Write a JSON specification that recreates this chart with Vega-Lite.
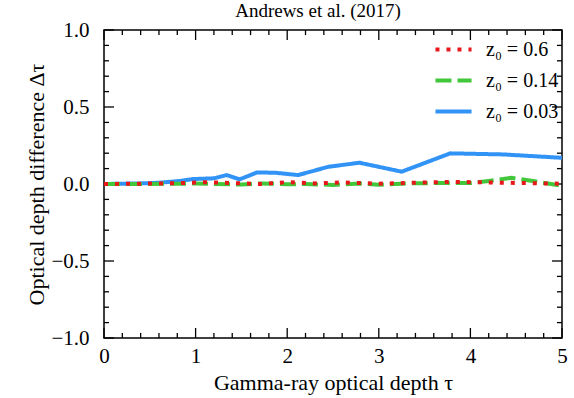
{
  "$schema": "https://vega.github.io/schema/vega-lite/v6.json",
  "width": 458,
  "height": 308,
  "autosize": "none",
  "padding": {"left": 104, "top": 30, "right": 12, "bottom": 60},
  "background": "white",
  "config": {
    "font": "Liberation Serif",
    "view": {"stroke": "black", "strokeWidth": 1.5},
    "title": {"font": "Liberation Serif", "fontWeight": "normal", "color": "black"},
    "rule": {"color": "black", "strokeWidth": 1.3},
    "axis": {"grid": false, "domain": false, "ticks": false, "zindex": 0, "labelColor": "black", "titleColor": "black", "labelFont": "Liberation Serif", "titleFont": "Liberation Serif", "labelFontSize": 21, "titleFontSize": 21, "titleFontWeight": "normal"}
  },
  "title": {"text": "Andrews et al. (2017)", "fontSize": 19, "fontWeight": "normal", "font": "Liberation Serif", "frame": "group", "offset": -2, "dx": -15, "color": "black"},
  "datasets": {
    "xmajor": [{"v": 0}, {"v": 1}, {"v": 2}, {"v": 3}, {"v": 4}, {"v": 5}],
    "xminor": [{"v": 0.2}, {"v": 0.4}, {"v": 0.6}, {"v": 0.8}, {"v": 1.2}, {"v": 1.4}, {"v": 1.6}, {"v": 1.8}, {"v": 2.2}, {"v": 2.4}, {"v": 2.6}, {"v": 2.8}, {"v": 3.2}, {"v": 3.4}, {"v": 3.6}, {"v": 3.8}, {"v": 4.2}, {"v": 4.4}, {"v": 4.6}, {"v": 4.8}],
    "ymajor": [{"v": -1}, {"v": -0.5}, {"v": 0}, {"v": 0.5}, {"v": 1}],
    "yminor": [{"v": -0.9}, {"v": -0.8}, {"v": -0.7}, {"v": -0.6}, {"v": -0.4}, {"v": -0.3}, {"v": -0.2}, {"v": -0.1}, {"v": 0.1}, {"v": 0.2}, {"v": 0.3}, {"v": 0.4}, {"v": 0.6}, {"v": 0.7}, {"v": 0.8}, {"v": 0.9}],
    "lines": [
      {"tau": 0, "d": 0.0, "z": "0.03"},
      {"tau": 0.2, "d": 0.002, "z": "0.03"},
      {"tau": 0.4, "d": 0.004, "z": "0.03"},
      {"tau": 0.6, "d": 0.008, "z": "0.03"},
      {"tau": 0.83, "d": 0.02, "z": "0.03"},
      {"tau": 0.97, "d": 0.032, "z": "0.03"},
      {"tau": 1.2, "d": 0.037, "z": "0.03"},
      {"tau": 1.34, "d": 0.058, "z": "0.03"},
      {"tau": 1.48, "d": 0.03, "z": "0.03"},
      {"tau": 1.67, "d": 0.075, "z": "0.03"},
      {"tau": 1.87, "d": 0.073, "z": "0.03"},
      {"tau": 2.12, "d": 0.058, "z": "0.03"},
      {"tau": 2.45, "d": 0.112, "z": "0.03"},
      {"tau": 2.79, "d": 0.138, "z": "0.03"},
      {"tau": 3.25, "d": 0.08, "z": "0.03"},
      {"tau": 3.78, "d": 0.199, "z": "0.03"},
      {"tau": 4.36, "d": 0.192, "z": "0.03"},
      {"tau": 5.0, "d": 0.17, "z": "0.03"},
      {"tau": 0, "d": 0.0, "z": "0.14"},
      {"tau": 0.5, "d": 0.0, "z": "0.14"},
      {"tau": 1.0, "d": 0.003, "z": "0.14"},
      {"tau": 1.2, "d": 0.0, "z": "0.14"},
      {"tau": 1.5, "d": -0.004, "z": "0.14"},
      {"tau": 1.7, "d": 0.004, "z": "0.14"},
      {"tau": 2.0, "d": -0.002, "z": "0.14"},
      {"tau": 2.2, "d": 0.0, "z": "0.14"},
      {"tau": 2.5, "d": -0.006, "z": "0.14"},
      {"tau": 2.8, "d": 0.003, "z": "0.14"},
      {"tau": 3.0, "d": -0.005, "z": "0.14"},
      {"tau": 3.3, "d": 0.004, "z": "0.14"},
      {"tau": 3.6, "d": 0.006, "z": "0.14"},
      {"tau": 4.0, "d": 0.006, "z": "0.14"},
      {"tau": 4.2, "d": 0.02, "z": "0.14"},
      {"tau": 4.45, "d": 0.04, "z": "0.14"},
      {"tau": 4.7, "d": 0.018, "z": "0.14"},
      {"tau": 5.0, "d": -0.012, "z": "0.14"},
      {"tau": 0, "d": 0.0, "z": "0.6"},
      {"tau": 0.4, "d": 0.002, "z": "0.6"},
      {"tau": 0.8, "d": 0.005, "z": "0.6"},
      {"tau": 1.1, "d": 0.012, "z": "0.6"},
      {"tau": 1.4, "d": 0.006, "z": "0.6"},
      {"tau": 1.7, "d": 0.0, "z": "0.6"},
      {"tau": 2.0, "d": 0.012, "z": "0.6"},
      {"tau": 2.3, "d": 0.004, "z": "0.6"},
      {"tau": 2.6, "d": 0.01, "z": "0.6"},
      {"tau": 3.0, "d": 0.002, "z": "0.6"},
      {"tau": 3.4, "d": 0.008, "z": "0.6"},
      {"tau": 3.8, "d": 0.014, "z": "0.6"},
      {"tau": 4.2, "d": 0.01, "z": "0.6"},
      {"tau": 4.6, "d": 0.006, "z": "0.6"},
      {"tau": 5.0, "d": 0.002, "z": "0.6"}
    ]
  },
  "layer": [
    {
      "data": {"name": "xmajor"},
      "mark": {"type": "rule"},
      "encoding": {"x": {"field": "v", "type": "quantitative", "scale": {"domain": [0, 5], "nice": false, "zero": false},
          "axis": {"orient": "bottom", "title": "Gamma-ray optical depth τ", "titleFontSize": 22, "titlePadding": 6,
            "values": [0, 1, 2, 3, 4, 5], "format": "d", "labelPadding": 7, "labelFlush": false}},
        "y": {"datum": -1, "type": "quantitative", "scale": {"domain": [-1, 1], "nice": false},
          "axis": {"orient": "left", "title": "Optical depth difference Δτ", "titleFontSize": 22, "titlePadding": 2,
            "values": [-1, -0.5, 0, 0.5, 1], "format": ".1f", "labelPadding": 15, "labelFlush": false}},
        "y2": {"datum": -0.935}}
    },
    {
      "data": {"name": "xmajor"},
      "mark": {"type": "rule"},
      "encoding": {"x": {"field": "v", "type": "quantitative"}, "y": {"datum": 1, "type": "quantitative"}, "y2": {"datum": 0.935}}
    },
    {
      "data": {"name": "xminor"},
      "mark": {"type": "rule"},
      "encoding": {"x": {"field": "v", "type": "quantitative"}, "y": {"datum": -1, "type": "quantitative"}, "y2": {"datum": -0.967}}
    },
    {
      "data": {"name": "xminor"},
      "mark": {"type": "rule"},
      "encoding": {"x": {"field": "v", "type": "quantitative"}, "y": {"datum": 1, "type": "quantitative"}, "y2": {"datum": 0.967}}
    },
    {
      "data": {"name": "ymajor"},
      "mark": {"type": "rule"},
      "encoding": {"y": {"field": "v", "type": "quantitative"}, "x": {"datum": 0, "type": "quantitative"}, "x2": {"datum": 0.109}}
    },
    {
      "data": {"name": "ymajor"},
      "mark": {"type": "rule"},
      "encoding": {"y": {"field": "v", "type": "quantitative"}, "x": {"datum": 5, "type": "quantitative"}, "x2": {"datum": 4.891}}
    },
    {
      "data": {"name": "yminor"},
      "mark": {"type": "rule"},
      "encoding": {"y": {"field": "v", "type": "quantitative"}, "x": {"datum": 0, "type": "quantitative"}, "x2": {"datum": 0.055}}
    },
    {
      "data": {"name": "yminor"},
      "mark": {"type": "rule"},
      "encoding": {"y": {"field": "v", "type": "quantitative"}, "x": {"datum": 5, "type": "quantitative"}, "x2": {"datum": 4.945}}
    },
    {
      "data": {"name": "lines"},
      "mark": {"type": "line", "strokeWidth": 4, "strokeCap": "butt", "strokeJoin": "round", "clip": true},
      "encoding": {
        "x": {"field": "tau", "type": "quantitative"},
        "y": {"field": "d", "type": "quantitative"},
        "color": {"field": "z", "type": "nominal", "sort": ["0.6", "0.14", "0.03"],
          "scale": {"domain": ["0.6", "0.14", "0.03"], "range": ["#e8171b", "#42c63a", "#3193f5"]},
          "legend": {"orient": "none", "legendX": 329, "legendY": -1, "title": null, "symbolType": "stroke", "symbolSize": 1300, "symbolStrokeWidth": 4,
            "labelExpr": "'z₀ = ' + datum.label", "labelFontSize": 20, "labelFont": "Liberation Serif", "labelColor": "black", "rowPadding": -11, "labelOffset": 12, "padding": 0}},
        "strokeDash": {"field": "z", "type": "nominal", "sort": ["0.6", "0.14", "0.03"],
          "scale": {"domain": ["0.6", "0.14", "0.03"], "range": [[4, 7], [16, 6], [1, 0]]}, "legend": null},
        "detail": {"field": "z"}
      }
    }
  ]
}
